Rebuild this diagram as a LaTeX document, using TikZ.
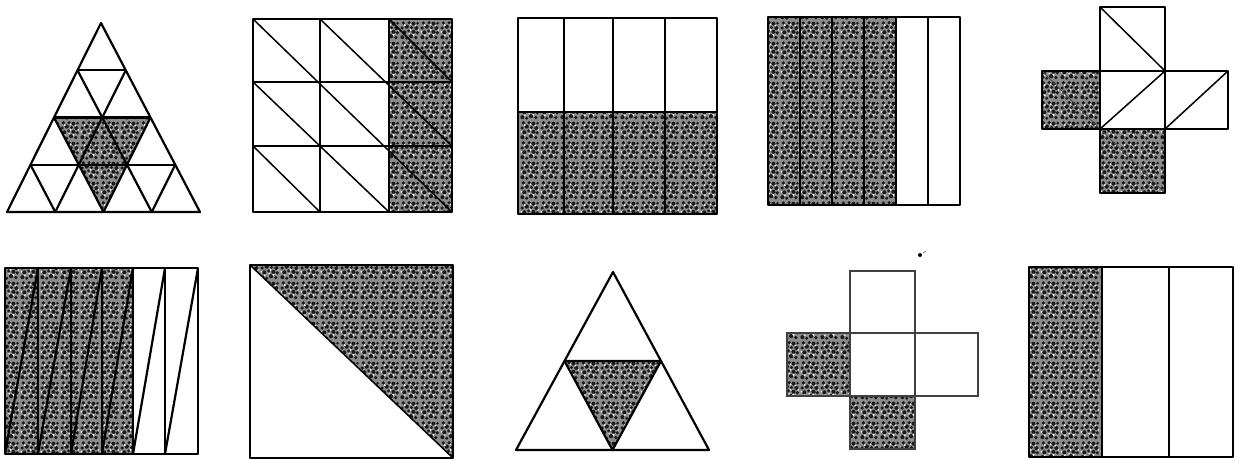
\documentclass[tikz,border=0pt]{standalone}
\usetikzlibrary{patterns,calc}
\pgfdeclarepatternformonly{stipB}{\pgfpointorigin}{\pgfqpoint{20pt}{20pt}}{\pgfqpoint{20pt}{20pt}}{%
\pgfpathcircle{\pgfqpoint{2.5pt}{3pt}}{2.1pt}
\pgfpathcircle{\pgfqpoint{7pt}{1.8pt}}{1.7pt}
\pgfpathcircle{\pgfqpoint{11.5pt}{4pt}}{2.2pt}
\pgfpathcircle{\pgfqpoint{16.5pt}{2.5pt}}{1.9pt}
\pgfpathcircle{\pgfqpoint{18pt}{7.5pt}}{1.8pt}
\pgfpathcircle{\pgfqpoint{4.5pt}{8pt}}{2.1pt}
\pgfpathcircle{\pgfqpoint{9pt}{9.5pt}}{1.7pt}
\pgfpathcircle{\pgfqpoint{14pt}{8.5pt}}{2.1pt}
\pgfpathcircle{\pgfqpoint{2.2pt}{12.5pt}}{1.8pt}
\pgfpathcircle{\pgfqpoint{7pt}{14pt}}{2.2pt}
\pgfpathcircle{\pgfqpoint{12pt}{13pt}}{1.7pt}
\pgfpathcircle{\pgfqpoint{17pt}{12.5pt}}{2.1pt}
\pgfpathcircle{\pgfqpoint{3.5pt}{17.8pt}}{1.9pt}
\pgfpathcircle{\pgfqpoint{9.5pt}{18pt}}{1.8pt}
\pgfpathcircle{\pgfqpoint{14pt}{17pt}}{2.1pt}
\pgfpathcircle{\pgfqpoint{18.3pt}{17.5pt}}{1.5pt}
\pgfusepath{fill}}
\pgfdeclarepatternformonly{stipW}{\pgfpointorigin}{\pgfqpoint{20pt}{20pt}}{\pgfqpoint{20pt}{20pt}}{%
\pgfpathcircle{\pgfqpoint{5pt}{5pt}}{1.0pt}
\pgfpathcircle{\pgfqpoint{14pt}{5.5pt}}{1.1pt}
\pgfpathcircle{\pgfqpoint{9.5pt}{6.5pt}}{0.8pt}
\pgfpathcircle{\pgfqpoint{1.5pt}{8.5pt}}{0.9pt}
\pgfpathcircle{\pgfqpoint{11pt}{10.5pt}}{1.0pt}
\pgfpathcircle{\pgfqpoint{16pt}{15pt}}{0.9pt}
\pgfpathcircle{\pgfqpoint{5pt}{15.5pt}}{1.1pt}
\pgfpathcircle{\pgfqpoint{11pt}{16.3pt}}{0.9pt}
\pgfpathcircle{\pgfqpoint{19pt}{10.5pt}}{0.8pt}
\pgfusepath{fill}}
\tikzset{
  shade/.style={fill=black!45,postaction={pattern=stipB,pattern color=black!90},postaction={pattern=stipW,pattern color=white}},
  thickln/.style={line width=2.2pt,line join=round},
  medln/.style={line width=1.5pt,line join=round},
  thinln/.style={line width=1.1pt,draw=black!75},
}
\begin{document}
\begin{tikzpicture}[x=1pt,y=-1pt]
\useasboundingbox (0,0) rectangle (1240,460);
\fill[white] (0,0) rectangle (1240,460);

% ---- Figure 1: subdivided triangle
\foreach \i in {0,...,4}{\foreach \j in {0,...,4}{
  \coordinate (t\i\j) at ({7+\i*48.25+\j*23.5},{212-\j*47.25});}}
\fill[shade] (t02) -- (t22) -- (t20) -- cycle;
\draw[thickln] (t00) -- (t40) -- (t04) -- cycle;
\foreach \k [evaluate=\k as \m using int(4-\k)] in {1,2,3}{
  \draw[thickln] (t0\k) -- (t\m\k);
  \draw[thickln] (t\k0) -- (t\k\m);
  \draw[thickln] (t\k0) -- (t0\k);
}

% ---- Figure 2: 3x3 square with diagonals
\fill[shade] (389,19) rectangle (452,212);
\draw[medln] (253,19) rectangle (452,212);
\draw[medln] (320,19) -- (320,212) (389,19) -- (389,212)
             (253,82) -- (452,82) (253,146) -- (452,146);
\draw[medln] (253,19) -- (452,212) (253,82) -- (389,212) (253,146) -- (320,212)
             (320,19) -- (452,146) (389,19) -- (452,82);

% ---- Figure 3: 4 columns, bottom half shaded
\fill[shade] (518,112) rectangle (717,214);
\draw[medln] (518,18) rectangle (717,214);
\draw[medln] (518,112) -- (717,112);
\foreach \x in {564,613,665}{\draw[medln] (\x,18) -- (\x,214);}

% ---- Figure 4: 6 columns, 4 shaded
\fill[shade] (768,17) rectangle (896,205);
\draw[thickln] (768,17) rectangle (960,205);
\foreach \x in {800,832,864,896,928}{\draw[thickln] (\x,17) -- (\x,205);}

% ---- Figure 5: cube net with diagonals
\fill[shade] (1042,71) rectangle (1100,129);
\fill[shade] (1100,129) rectangle (1165,193);
\draw[line width=0.8pt,black!70] (1042,71) -- (1100,129) (1100,129) -- (1165,193);
\draw[medln] (1100,7) rectangle (1165,193);
\draw[medln] (1042,71) rectangle (1228,129);
\draw[medln] (1100,7) -- (1165,71) (1100,129) -- (1165,71) (1165,129) -- (1228,71);

% ---- Figure 6: 6 columns with slanted lines
\fill[shade] (5,268) rectangle (133,454);
\draw[thickln] (5,268) rectangle (198,454);
\foreach \a/\b in {5/38,38/71,71/102,102/133,133/165,165/198}{
  \draw[thickln] (\b,268) -- (\b,454);
  \draw[thickln] (\a,454) -- (\b,268);
}

% ---- Figure 7: square split by diagonal
\fill[shade] (250,265) -- (453,265) -- (453,458) -- cycle;
\draw[medln] (250,265) rectangle (453,458);
\draw[medln] (250,265) -- (453,458);

% ---- Figure 8: triangle with shaded middle
\coordinate (a8) at (516,450); \coordinate (b8) at (709,450); \coordinate (c8) at (613,272);
\coordinate (m1) at ($(a8)!0.5!(c8)$); \coordinate (m2) at ($(b8)!0.5!(c8)$); \coordinate (m3) at ($(a8)!0.5!(b8)$);
\fill[shade] (m1) -- (m2) -- (m3) -- cycle;
\draw[thickln] (a8) -- (b8) -- (c8) -- cycle;
\draw[thickln] (m1) -- (m2) -- (m3) -- cycle;

% ---- Figure 9: cube net
\fill[shade] (787,333) rectangle (850,396);
\fill[shade] (850,396) rectangle (915,449);
\draw[thinln] (850,271) rectangle (915,449);
\draw[thinln] (787,333) rectangle (978,396);
\fill (920,255) circle (2pt);
\draw[line width=0.6pt,black!60] (923,253) -- (926,251);

% ---- Figure 10: 3 columns, first shaded
\fill[shade] (1029,267) rectangle (1102,457);
\draw[medln] (1029,267) rectangle (1233,457);
\draw[medln] (1102,267) -- (1102,457) (1169,267) -- (1169,457);
\end{tikzpicture}
\end{document}
